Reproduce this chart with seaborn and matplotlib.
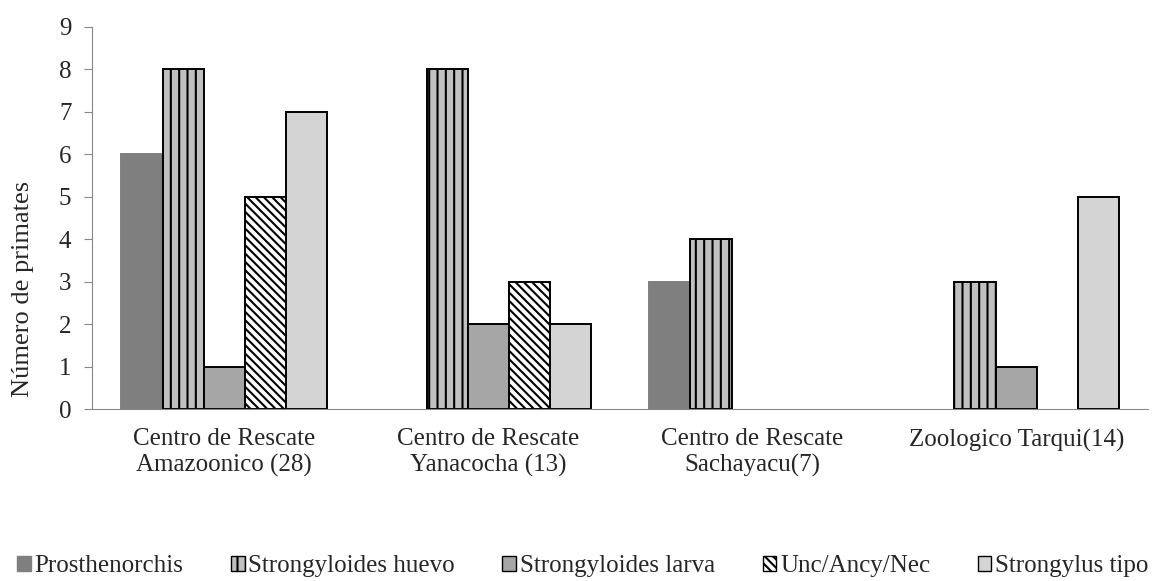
import pandas as pd
import matplotlib.pyplot as plt
import seaborn as sns

# datos
sitios = ["Centro de Rescate\nAmazoonico (28)", "Centro de Rescate\nYanacocha (13)",
          "Centro de Rescate\nSachayacu(7)", "Zoologico Tarqui(14)"]
parasitos = ["Prosthenorchis", "Strongyloides huevo", "Strongyloides larva",
             "Unc/Ancy/Nec", "Strongylus tipo"]
prosthenorchis = [6, 0, 3, 0]
str_huevo = [8, 8, 4, 3]
str_larva = [1, 2, 0, 1]
unc_ancy_nec = [5, 3, 0, 0]
strongylus_tipo = [7, 2, 0, 5]

valores = [prosthenorchis, str_huevo, str_larva, unc_ancy_nec, strongylus_tipo]
rows = []
for p, vals in zip(parasitos, valores):
    for s, v in zip(sitios, vals):
        rows.append({"Sitio": s, "Parasito": p, "n": v})
df = pd.DataFrame(rows)

bs = chr(92)
colores = ["#7f7f7f", "#c0c0c0", "#a6a6a6", "#ffffff", "#d4d4d4"]
hatches = [None, "||", None, bs * 4, None]
bordes = ["#7f7f7f", "black", "black", "black", "black"]

sns.set_style("white")
plt.rcParams["font.family"] = ["Liberation Serif", "DejaVu Serif"]
plt.rcParams["hatch.linewidth"] = 1.5

fig = plt.figure(figsize=(11.54, 5.81), dpi=100)
ax = fig.add_axes([0.08, 0.296, 0.915, 0.658])

sns.barplot(data=df, x="Sitio", y="n", hue="Parasito", order=sitios,
            hue_order=parasitos, palette=colores, width=0.78, ax=ax,
            legend=False, saturation=1)

for cont, c, h, e in zip(ax.containers, colores, hatches, bordes):
    for bar in cont:
        bar.set_facecolor(c)
        bar.set_edgecolor(e)
        bar.set_linewidth(1.4 if bar.get_height() > 0 else 0)
        if h:
            bar.set_hatch(h)

ax.set_ylim(0, 9)
ax.set_yticks(range(10))
ax.set_xlim(-0.5, 3.5)
ax.set_xlabel("")
ax.set_ylabel("Número de primates", fontsize=19)
ax.yaxis.set_label_coords(-0.055, 0.314)
ax.tick_params(axis="y", labelsize=18, length=6, color="#888888", left=True, pad=9)
ax.tick_params(axis="x", labelsize=18, length=0, pad=14)
for sp in ["top", "right"]:
    ax.spines[sp].set_visible(False)
ax.spines["left"].set_color("#888888")
ax.spines["bottom"].set_color("#888888")

handles = [plt.Rectangle((0, 0), 1, 1, facecolor=c, edgecolor=e, hatch=h, linewidth=1)
           for c, h, e in zip(colores, hatches, bordes)]
fig.legend(handles, parasitos, loc="center", bbox_to_anchor=(0.505, 0.026), ncol=5,
           frameon=False, fontsize=18, handlelength=0.55, handleheight=0.55,
           handletextpad=0.15, columnspacing=1.9)

fig.savefig("out.png", dpi=100)
